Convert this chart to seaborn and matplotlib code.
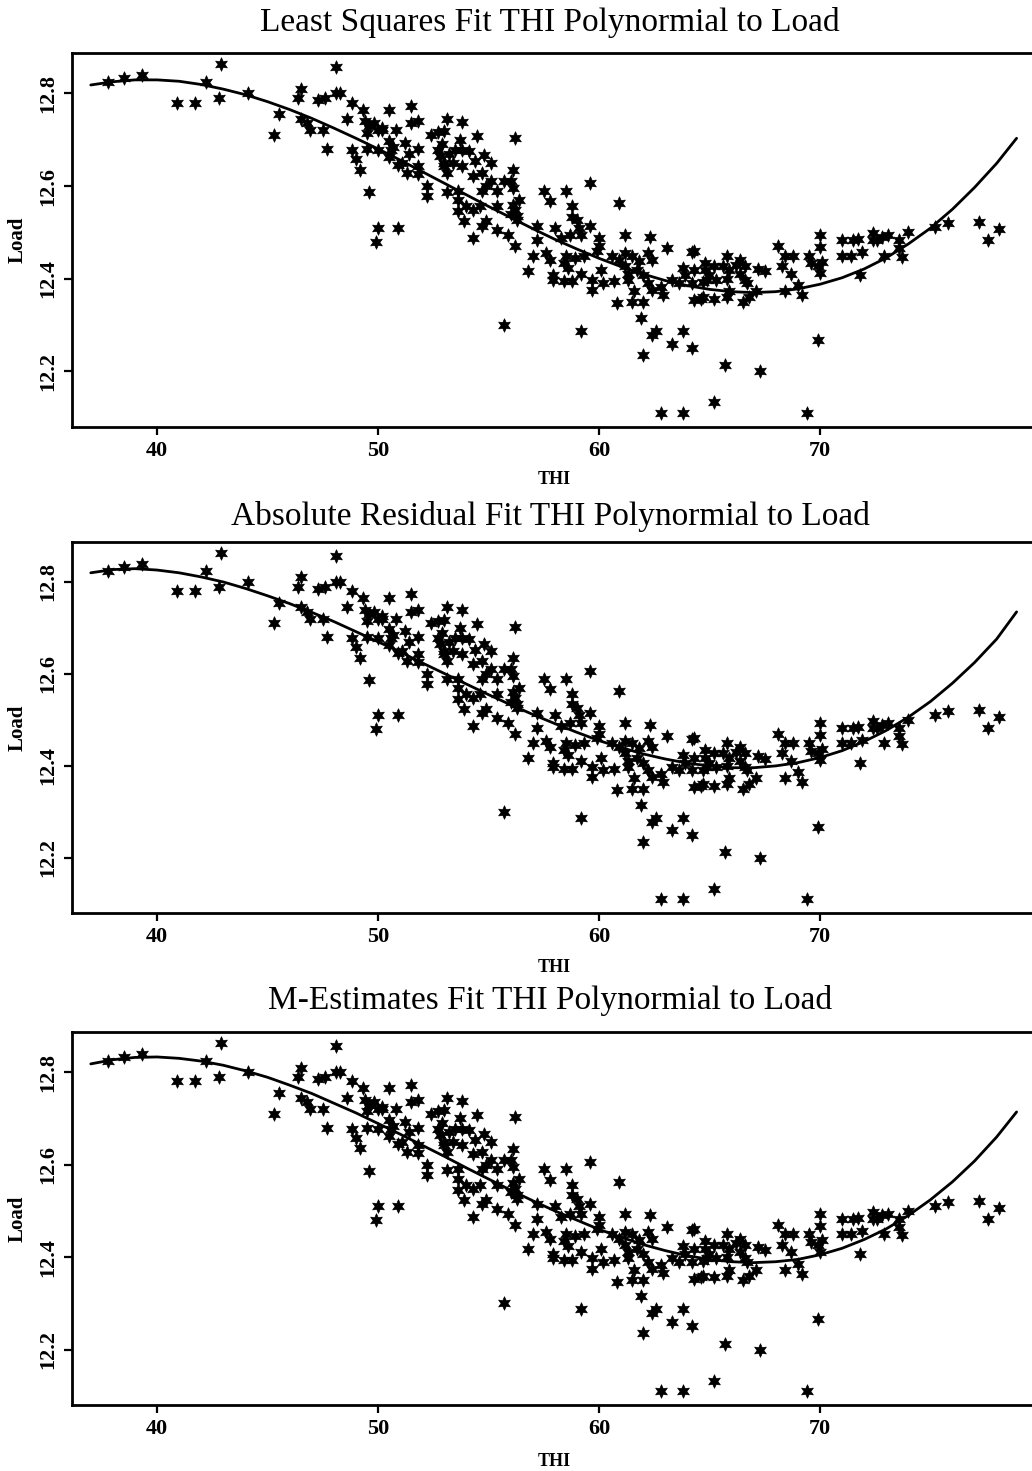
import numpy as np
import pandas as pd
import matplotlib
matplotlib.use("Agg")
import matplotlib.pyplot as plt
import seaborn as sns

# ---------------- data ----------------
thi = [
    37.8, 38.5, 39.3, 42.9, 40.9, 41.7, 42.8, 42.2, 44.1, 45.5, 45.3, 46.5, 46.4, 46.5, 46.9,
    47.5, 46.8, 47.3, 47.6, 48.1, 48.1, 48.3, 47.7, 48.6, 48.8, 49.3, 49.4, 49.6, 49.8, 50.0,
    49.5, 50.2, 48.8, 49.0, 49.2, 49.5, 50.0, 50.5, 49.6, 50.0, 49.9, 50.9, 50.5, 50.7, 50.9,
    51.5, 51.5, 51.8, 53.1, 50.2, 50.8, 50.5, 50.6, 51.2, 51.1, 51.3, 51.4, 51.8, 51.8, 51.8,
    52.2, 52.2, 52.4, 52.7, 53.0, 52.7, 52.8, 53.0, 53.1,
    53.8, 54.5, 56.2, 52.9, 53.2, 53.5, 53.7, 53.8, 54.1, 54.4, 54.8, 55.1, 53.4, 53.8, 54.3,
    54.7, 55.1, 53.0, 53.1, 53.6, 53.6, 53.6, 53.9, 54.0, 54.3, 54.3, 54.7, 54.6, 54.9, 55.4,
    55.7, 56.1, 56.0, 56.1, 54.7, 54.9, 55.4, 55.9, 56.2, 56.8, 55.4, 56.2, 56.4, 56.3, 57.2,
    58.0, 57.2, 57.0, 57.6, 57.8, 57.9, 57.5, 57.8, 55.7, 56.0, 56.3, 56.1,
    59.6, 58.5, 60.9, 58.8, 58.8, 59.0, 59.1, 59.2, 59.6, 58.7, 58.3, 60.0, 60.0, 59.9, 61.2,
    62.3, 63.1, 58.5, 58.9, 59.3, 58.4, 58.6, 57.9, 58.4, 58.8, 59.2, 59.7, 59.7, 60.1, 60.2,
    60.7, 60.6, 60.9, 61.2, 61.5, 61.8, 62.2, 62.4, 61.2, 61.3, 61.7, 61.3, 62.0, 62.2, 62.4,
    62.8, 62.9, 63.3, 63.6, 61.6, 61.5, 62.0, 60.8, 61.9, 59.2, 62.4, 62.6, 62.0, 62.8, 63.8,
    64.2, 64.3, 63.8, 63.9, 64.3, 64.8, 64.8, 65.0, 65.2, 64.9, 65.3, 65.6, 65.8, 65.9, 65.8,
    66.2, 66.4, 66.6, 66.4, 66.6, 66.7, 67.2, 67.5, 68.1, 68.4, 68.8, 68.3, 68.7, 69.5, 69.6,
    69.9, 64.2, 64.3, 64.6, 64.7, 64.7, 65.2, 65.8, 65.9, 66.5, 66.8, 67.1, 68.4, 69.0, 69.2,
    63.8, 63.3, 64.2, 65.7, 67.3, 65.2, 69.4, 69.9,
    70.0, 70.0, 70.1, 70.0, 71.0, 71.5, 71.7, 71.0, 71.4, 71.9, 72.4, 72.6, 72.8, 73.1, 72.4,
    72.9, 73.6, 73.6, 73.7, 74.0, 71.8, 75.2, 75.8, 77.2, 77.6, 78.1,
]
load = [
    12.825, 12.833, 12.840, 12.863, 12.780, 12.780, 12.790, 12.825, 12.800, 12.755, 12.710, 12.810, 12.790, 12.745, 12.720,
    12.720, 12.735, 12.785, 12.790, 12.857, 12.800, 12.800, 12.680, 12.745, 12.780, 12.765, 12.740, 12.730, 12.735, 12.720,
    12.715, 12.725, 12.678, 12.658, 12.635, 12.680, 12.678, 12.765, 12.587, 12.510, 12.480, 12.510, 12.662, 12.684, 12.645,
    12.773, 12.735, 12.740, 12.745, 12.720, 12.720, 12.697, 12.678, 12.693, 12.650, 12.628, 12.670, 12.680, 12.643, 12.625,
    12.600, 12.578, 12.710, 12.716, 12.718, 12.678, 12.665, 12.650, 12.588,
    12.738, 12.708, 12.703, 12.690, 12.670, 12.678, 12.700, 12.678, 12.675, 12.653, 12.666, 12.650, 12.650, 12.643, 12.622,
    12.628, 12.610, 12.643, 12.628, 12.590, 12.570, 12.545, 12.524, 12.556, 12.548, 12.487, 12.590, 12.556, 12.600, 12.590,
    12.610, 12.634, 12.610, 12.596, 12.514, 12.524, 12.505, 12.494, 12.470, 12.417, 12.556, 12.548, 12.570, 12.526, 12.514,
    12.510, 12.483, 12.450, 12.455, 12.440, 12.397, 12.590, 12.567, 12.300, 12.540, 12.535, 12.560,
    12.606, 12.590, 12.563, 12.556, 12.534, 12.526, 12.510, 12.494, 12.514, 12.494, 12.487, 12.487, 12.470, 12.460, 12.494,
    12.490, 12.466, 12.449, 12.445, 12.449, 12.434, 12.423, 12.407, 12.394, 12.394, 12.410, 12.397, 12.375, 12.418, 12.390,
    12.394, 12.449, 12.440, 12.455, 12.449, 12.438, 12.455, 12.440, 12.427, 12.410, 12.418, 12.397, 12.407, 12.390, 12.375,
    12.383, 12.365, 12.397, 12.390, 12.373, 12.350, 12.350, 12.347, 12.315, 12.287, 12.278, 12.287, 12.235, 12.110, 12.110,
    12.458, 12.460, 12.423, 12.407, 12.418, 12.434, 12.418, 12.407, 12.427, 12.397, 12.397, 12.427, 12.449, 12.418, 12.400,
    12.430, 12.440, 12.427, 12.410, 12.397, 12.390, 12.422, 12.416, 12.470, 12.450, 12.450, 12.427, 12.410, 12.450, 12.433,
    12.427, 12.390, 12.353, 12.357, 12.360, 12.392, 12.357, 12.360, 12.373, 12.350, 12.360, 12.373, 12.373, 12.386, 12.364,
    12.287, 12.260, 12.250, 12.213, 12.200, 12.133, 12.111, 12.267,
    12.494, 12.468, 12.436, 12.412, 12.483, 12.483, 12.485, 12.450, 12.450, 12.457, 12.498, 12.483, 12.490, 12.494, 12.483,
    12.450, 12.483, 12.466, 12.447, 12.500, 12.407, 12.511, 12.520, 12.522, 12.483, 12.507,
]

# fitted curves (THI 37 ... 78, then the end at 78.9)
fit_x = [37, 38, 39, 40, 41, 42, 43, 44, 45, 46, 47, 48, 49, 50, 51, 52, 53, 54, 55, 56, 57, 58,
         59, 60, 61, 62, 63, 64, 65, 66, 67, 68, 69, 70, 71, 72, 73, 74, 75, 76, 77, 78, 78.9]
fit_ls = [12.818, 12.825, 12.829, 12.829, 12.826, 12.819, 12.809, 12.797, 12.782, 12.765, 12.746,
          12.725, 12.703, 12.680, 12.656, 12.631, 12.606, 12.581, 12.556, 12.532, 12.508, 12.485,
          12.464, 12.444, 12.426, 12.410, 12.396, 12.385, 12.377, 12.372, 12.370, 12.372, 12.378,
          12.388, 12.402, 12.421, 12.445, 12.475, 12.509, 12.550, 12.597, 12.649, 12.703]
fit_lad = [12.820, 12.827, 12.829, 12.826, 12.820, 12.811, 12.800, 12.786, 12.770, 12.753, 12.734,
           12.714, 12.692, 12.670, 12.648, 12.624, 12.601, 12.578, 12.555, 12.533, 12.512, 12.492,
           12.473, 12.455, 12.440, 12.426, 12.415, 12.406, 12.400, 12.396, 12.396, 12.400, 12.407,
           12.418, 12.433, 12.453, 12.477, 12.506, 12.540, 12.580, 12.625, 12.676, 12.735]
fit_m = [12.818, 12.827, 12.832, 12.833, 12.830, 12.824, 12.815, 12.803, 12.789, 12.772, 12.754,
         12.733, 12.712, 12.689, 12.666, 12.642, 12.618, 12.593, 12.569, 12.545, 12.522, 12.500,
         12.480, 12.460, 12.443, 12.427, 12.414, 12.403, 12.395, 12.390, 12.388, 12.390, 12.395,
         12.405, 12.419, 12.438, 12.461, 12.490, 12.524, 12.563, 12.608, 12.660, 12.714]

titles = ["Least Squares Fit THI Polynormial to Load",
          "Absolute Residual Fit THI Polynormial to Load",
          "M-Estimates Fit THI Polynormial to Load"]
x_ticks = [40, 50, 60, 70]
x_ticklabels = ["40", "50", "60", "70"]
y_ticks = [12.2, 12.4, 12.6, 12.8]
y_ticklabels = ["12.2", "12.4", "12.6", "12.8"]
x_label = "THI"
y_label = "Load"

# ---------------- drawing ----------------
sns.set_style("ticks")
plt.rcParams['font.family'] = ['Liberation Serif', 'DejaVu Serif']
for key in ["text.color", "axes.labelcolor", "xtick.color", "ytick.color", "axes.edgecolor"]:
    plt.rcParams[key] = "black"

W, H = 1032, 1471
fig = plt.figure(figsize=(W / 100, H / 100), dpi=100)

scatter_df = pd.DataFrame({"THI": thi, "Load": load})
fits = [fit_ls, fit_lad, fit_m]
# (axes top px, axes bottom px, title centre y px, THI label centre y px)
layout = [(53, 427, 22, 480), (542, 913, 516, 968), (1032, 1405, 1001, 1461)]

star = (6, 1, 0)
for i, (top, bot, ty, ly) in enumerate(layout):
    ax = fig.add_axes([72 / W, 1 - bot / H, 970 / W, (bot - top) / H])
    sns.scatterplot(data=scatter_df, x="THI", y="Load", ax=ax, marker=star,
                    s=95, color="black", edgecolor="black", linewidth=0.5, zorder=3)
    fit_df = pd.DataFrame({"THI": fit_x, "Load": fits[i]})
    sns.lineplot(data=fit_df, x="THI", y="Load", ax=ax, color="black",
                 linewidth=2.0, zorder=4)
    ax.set_xlim(36.15, 80.05)
    ax.set_ylim(12.08, 12.887)
    ax.set_xticks(x_ticks)
    ax.set_xticklabels(x_ticklabels, fontsize=16, fontweight="bold")
    ax.set_yticks(y_ticks)
    ax.set_yticklabels(y_ticklabels, fontsize=16, fontweight="bold",
                       rotation=90, va="center")
    ax.tick_params(axis="both", direction="out", length=6, width=1.6, color="black")
    ax.tick_params(axis="x", pad=4)
    ax.tick_params(axis="y", pad=4)
    for side in ["top", "bottom", "left", "right"]:
        ax.spines[side].set_linewidth(2.0)
        ax.spines[side].set_color("black")
    ax.set_xlabel("")
    ax.set_ylabel(y_label, fontsize=15, fontweight="bold")
    ax.yaxis.set_label_coords(-0.046, 0.5)
    fig.text(554 / W, 1 - ly / H, x_label, fontsize=13, fontweight="bold",
             ha="center", va="center")
    fig.text(550 / W, 1 - ty / H, titles[i], fontsize=24,
             ha="center", va="center")

fig.savefig("out.png", dpi=100, facecolor="white")
